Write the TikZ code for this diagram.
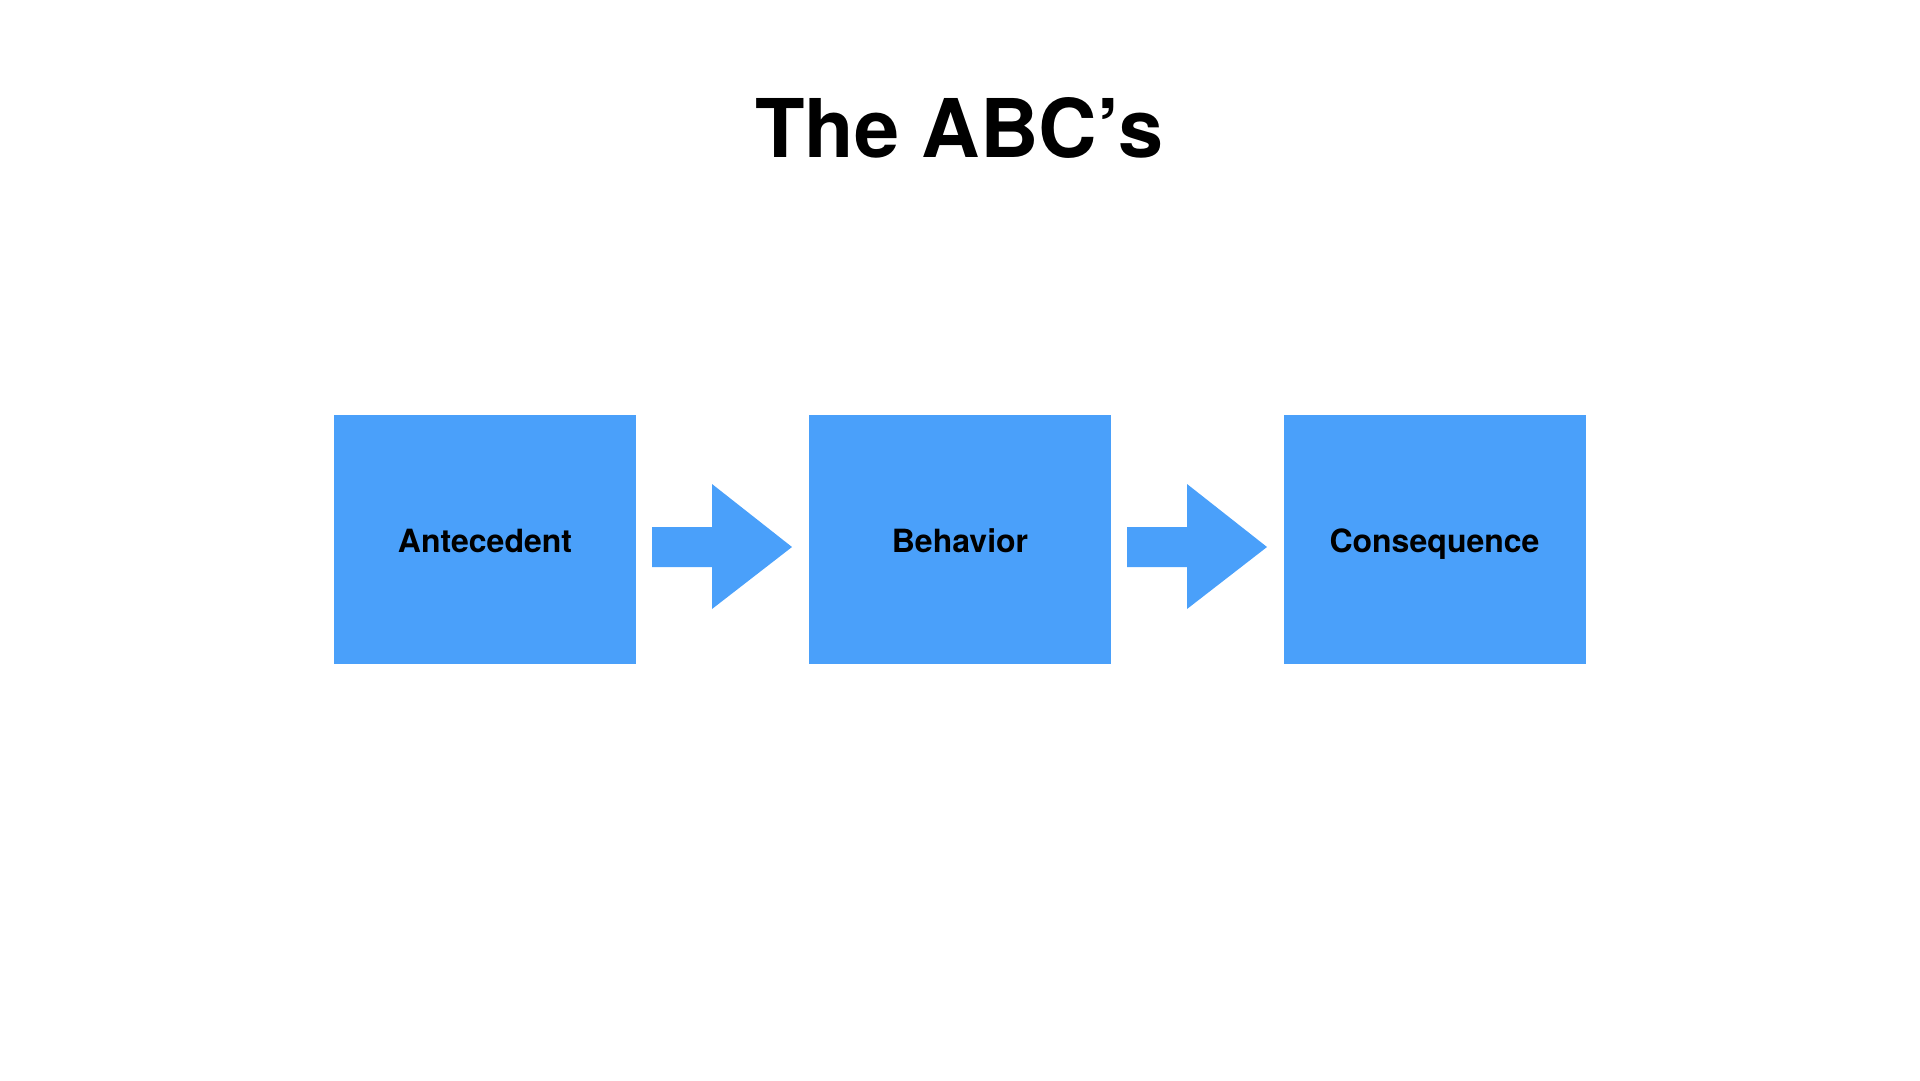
\documentclass[tikz,border=0pt]{standalone}
\usepackage{fontspec}
\setmainfont{TeX Gyre Heros}
\definecolor{boxblue}{RGB}{74,160,250}
\begin{document}
\begin{tikzpicture}[x=1pt,y=-1pt,
  blockbox/.style={fill=boxblue,draw=none,inner sep=0pt,minimum width=302pt,minimum height=249pt},
  lbl/.style={font=\fontsize{32}{38}\selectfont\bfseries,anchor=base,inner sep=0pt},
  arrowshape/.style={fill=boxblue,draw=none}]
\useasboundingbox (0,0) rectangle (1920,1080);
\node[font=\fontsize{81}{97}\selectfont\bfseries,anchor=base,inner sep=0pt] (title) at (959,157) {The ABC’s};
\node[blockbox] (a) at (485,539.5) {};
\node[blockbox] (b) at (960,539.5) {};
\node[blockbox] (c) at (1434.5,539.5) {};
\node[lbl] (ta) at (485,552) {Antecedent};
\node[lbl] (tb) at (960,552) {Behavior};
\node[lbl] (tc) at (1434.5,552) {Consequence};
\fill[arrowshape] (652,527) -- (712,527) -- (712,484) -- (792,547) -- (712,609) -- (712,567) -- (652,567) -- cycle;
\fill[arrowshape] (1127,527) -- (1187,527) -- (1187,484) -- (1267,547) -- (1187,609) -- (1187,567) -- (1127,567) -- cycle;
\end{tikzpicture}
\end{document}
